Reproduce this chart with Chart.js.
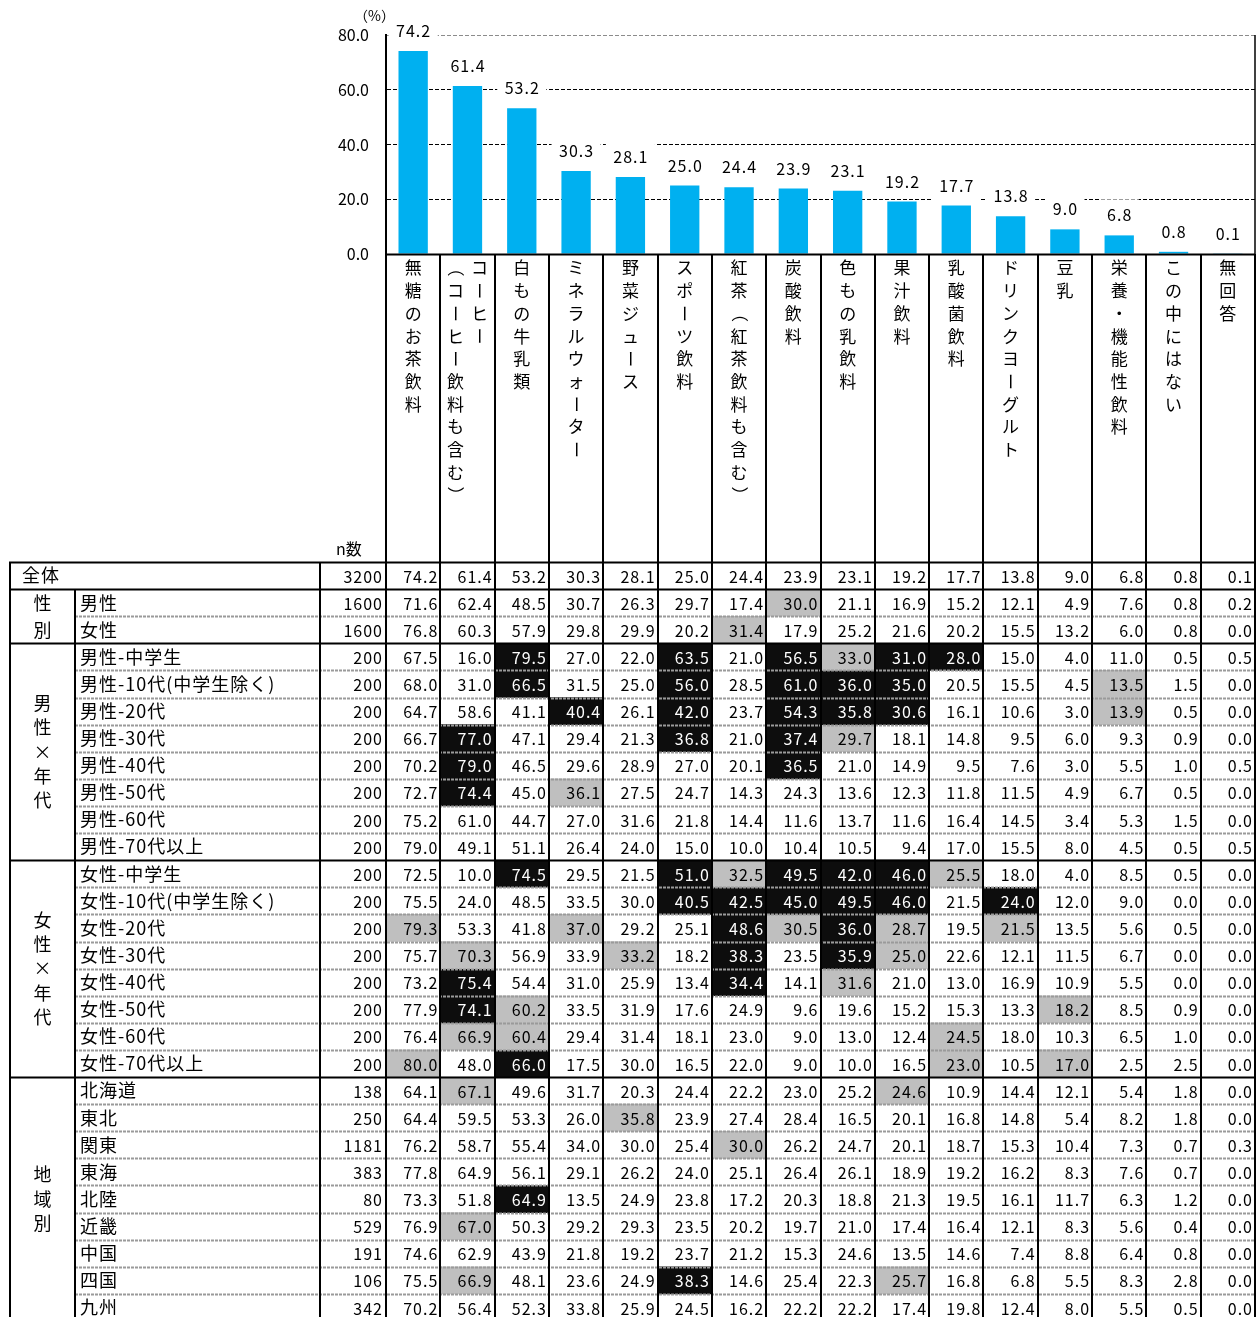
<!DOCTYPE html>
<html lang="ja">
<head>
<meta charset="utf-8">
<title>飲用している飲料</title>
<script src="https://cdn.jsdelivr.net/npm/chart.js@4.4.1/dist/chart.umd.min.js"></script>
<style>
  html, body { margin: 0; padding: 0; background: #fff; }
  #wrap { position: relative; width: 1258px; height: 1317px; overflow: hidden; background: #fff; }
  #bars { position: absolute; left: 0; top: 0; }
  #table { position: absolute; left: 0; top: 540px; }
</style>
</head>
<body>
<div id="wrap">
  <canvas id="bars" width="1258" height="564"></canvas>
  <canvas id="table" width="1258" height="782"></canvas>
</div>
<script>
// ---- data ----
const categories = [
  ['無糖のお茶飲料'],
  ['コーヒー', '（コーヒー飲料も含む）'],
  ['白もの牛乳類'],
  ['ミネラルウォーター'],
  ['野菜ジュース'],
  ['スポーツ飲料'],
  ['紅茶（紅茶飲料も含む）'],
  ['炭酸飲料'],
  ['色もの乳飲料'],
  ['果汁飲料'],
  ['乳酸菌飲料'],
  ['ドリンクヨーグルト'],
  ['豆乳'],
  ['栄養・機能性飲料'],
  ['この中にはない'],
  ['無回答']
];
const totalPct = [74.2, 61.4, 53.2, 30.3, 28.1, 25.0, 24.4, 23.9, 23.1, 19.2, 17.7, 13.8, 9.0, 6.8, 0.8, 0.1];
const yTicks = [0, 20, 40, 60, 80];

const groupNames = ['', '性別', '男性×年代', '女性×年代', '地域別'];
const groupSizes = [1, 2, 8, 8, 9];

const rowLabels = [
  '全体', '男性', '女性',
  '男性-中学生', '男性-10代(中学生除く)', '男性-20代', '男性-30代', '男性-40代', '男性-50代', '男性-60代', '男性-70代以上',
  '女性-中学生', '女性-10代(中学生除く)', '女性-20代', '女性-30代', '女性-40代', '女性-50代', '女性-60代', '女性-70代以上',
  '北海道', '東北', '関東', '東海', '北陸', '近畿', '中国', '四国', '九州'
];
const rowN = [3200, 1600, 1600,
  200, 200, 200, 200, 200, 200, 200, 200,
  200, 200, 200, 200, 200, 200, 200, 200,
  138, 250, 1181, 383, 80, 529, 191, 106, 342];

const rowValues = [
  [74.2, 61.4, 53.2, 30.3, 28.1, 25.0, 24.4, 23.9, 23.1, 19.2, 17.7, 13.8, 9.0, 6.8, 0.8, 0.1],
  [71.6, 62.4, 48.5, 30.7, 26.3, 29.7, 17.4, 30.0, 21.1, 16.9, 15.2, 12.1, 4.9, 7.6, 0.8, 0.2],
  [76.8, 60.3, 57.9, 29.8, 29.9, 20.2, 31.4, 17.9, 25.2, 21.6, 20.2, 15.5, 13.2, 6.0, 0.8, 0.0],
  [67.5, 16.0, 79.5, 27.0, 22.0, 63.5, 21.0, 56.5, 33.0, 31.0, 28.0, 15.0, 4.0, 11.0, 0.5, 0.5],
  [68.0, 31.0, 66.5, 31.5, 25.0, 56.0, 28.5, 61.0, 36.0, 35.0, 20.5, 15.5, 4.5, 13.5, 1.5, 0.0],
  [64.7, 58.6, 41.1, 40.4, 26.1, 42.0, 23.7, 54.3, 35.8, 30.6, 16.1, 10.6, 3.0, 13.9, 0.5, 0.0],
  [66.7, 77.0, 47.1, 29.4, 21.3, 36.8, 21.0, 37.4, 29.7, 18.1, 14.8, 9.5, 6.0, 9.3, 0.9, 0.0],
  [70.2, 79.0, 46.5, 29.6, 28.9, 27.0, 20.1, 36.5, 21.0, 14.9, 9.5, 7.6, 3.0, 5.5, 1.0, 0.5],
  [72.7, 74.4, 45.0, 36.1, 27.5, 24.7, 14.3, 24.3, 13.6, 12.3, 11.8, 11.5, 4.9, 6.7, 0.5, 0.0],
  [75.2, 61.0, 44.7, 27.0, 31.6, 21.8, 14.4, 11.6, 13.7, 11.6, 16.4, 14.5, 3.4, 5.3, 1.5, 0.0],
  [79.0, 49.1, 51.1, 26.4, 24.0, 15.0, 10.0, 10.4, 10.5, 9.4, 17.0, 15.5, 8.0, 4.5, 0.5, 0.5],
  [72.5, 10.0, 74.5, 29.5, 21.5, 51.0, 32.5, 49.5, 42.0, 46.0, 25.5, 18.0, 4.0, 8.5, 0.5, 0.0],
  [75.5, 24.0, 48.5, 33.5, 30.0, 40.5, 42.5, 45.0, 49.5, 46.0, 21.5, 24.0, 12.0, 9.0, 0.0, 0.0],
  [79.3, 53.3, 41.8, 37.0, 29.2, 25.1, 48.6, 30.5, 36.0, 28.7, 19.5, 21.5, 13.5, 5.6, 0.5, 0.0],
  [75.7, 70.3, 56.9, 33.9, 33.2, 18.2, 38.3, 23.5, 35.9, 25.0, 22.6, 12.1, 11.5, 6.7, 0.0, 0.0],
  [73.2, 75.4, 54.4, 31.0, 25.9, 13.4, 34.4, 14.1, 31.6, 21.0, 13.0, 16.9, 10.9, 5.5, 0.0, 0.0],
  [77.9, 74.1, 60.2, 33.5, 31.9, 17.6, 24.9, 9.6, 19.6, 15.2, 15.3, 13.3, 18.2, 8.5, 0.9, 0.0],
  [76.4, 66.9, 60.4, 29.4, 31.4, 18.1, 23.0, 9.0, 13.0, 12.4, 24.5, 18.0, 10.3, 6.5, 1.0, 0.0],
  [80.0, 48.0, 66.0, 17.5, 30.0, 16.5, 22.0, 9.0, 10.0, 16.5, 23.0, 10.5, 17.0, 2.5, 2.5, 0.0],
  [64.1, 67.1, 49.6, 31.7, 20.3, 24.4, 22.2, 23.0, 25.2, 24.6, 10.9, 14.4, 12.1, 5.4, 1.8, 0.0],
  [64.4, 59.5, 53.3, 26.0, 35.8, 23.9, 27.4, 28.4, 16.5, 20.1, 16.8, 14.8, 5.4, 8.2, 1.8, 0.0],
  [76.2, 58.7, 55.4, 34.0, 30.0, 25.4, 30.0, 26.2, 24.7, 20.1, 18.7, 15.3, 10.4, 7.3, 0.7, 0.3],
  [77.8, 64.9, 56.1, 29.1, 26.2, 24.0, 25.1, 26.4, 26.1, 18.9, 19.2, 16.2, 8.3, 7.6, 0.7, 0.0],
  [73.3, 51.8, 64.9, 13.5, 24.9, 23.8, 17.2, 20.3, 18.8, 21.3, 19.5, 16.1, 11.7, 6.3, 1.2, 0.0],
  [76.9, 67.0, 50.3, 29.2, 29.3, 23.5, 20.2, 19.7, 21.0, 17.4, 16.4, 12.1, 8.3, 5.6, 0.4, 0.0],
  [74.6, 62.9, 43.9, 21.8, 19.2, 23.7, 21.2, 15.3, 24.6, 13.5, 14.6, 7.4, 8.8, 6.4, 0.8, 0.0],
  [75.5, 66.9, 48.1, 23.6, 24.9, 38.3, 14.6, 25.4, 22.3, 25.7, 16.8, 6.8, 5.5, 8.3, 2.8, 0.0],
  [70.2, 56.4, 52.3, 33.8, 25.9, 24.5, 16.2, 22.2, 22.2, 17.4, 19.8, 12.4, 8.0, 5.5, 0.5, 0.0]
];

// significance marks per cell: 'b' = well above total, 'g' = above total, '.' = none
const rowMarks = [
  '................',
  '.......g........',
  '......g.........',
  '..b..b.bgbb.....',
  '..b..b.bbb...g..',
  '...b.b.bbb...g..',
  '.b...b.bg.......',
  '.b.....b........',
  '.b.g............',
  '................',
  '................',
  '..b..bgbbbg.....',
  '.....bbbbb.b....',
  'g..g..bgbg.g....',
  '.g..g.b.bg......',
  '.b....b.g.......',
  '.bg.........g...',
  '.gg.......g.....',
  'g.b.......g.g...',
  '.g.......g......',
  '....g...........',
  '......g.........',
  '................',
  '..b.............',
  '.g..............',
  '................',
  '.g...b...g......',
  '................'
];

// ---- drawing helpers ----
const JP = '"Noto Sans CJK JP", "Noto Sans CJK SC", sans-serif';
const ROTATED = new Set(['ー', '（', '）']);

function drawVertical(ctx, text, cx, y0, step) {
  [...text].forEach((ch, k) => {
    const cy = y0 + k * step;
    if (ROTATED.has(ch)) {
      ctx.save();
      ctx.translate(cx, cy);
      ctx.rotate(Math.PI / 2);
      ctx.fillText(ch, 0, 0);
      ctx.restore();
    } else {
      ctx.fillText(ch, cx, cy);
    }
  });
}

function vLine(ctx, x, y1, y2, color, w) {
  ctx.save();
  ctx.strokeStyle = color; ctx.lineWidth = w;
  ctx.beginPath(); ctx.moveTo(x, y1); ctx.lineTo(x, y2); ctx.stroke();
  ctx.restore();
}
function hLine(ctx, x1, x2, y, color, w, dash) {
  ctx.save();
  ctx.strokeStyle = color; ctx.lineWidth = w;
  if (dash) ctx.setLineDash(dash);
  ctx.beginPath(); ctx.moveTo(x1, y); ctx.lineTo(x2, y); ctx.stroke();
  ctx.restore();
}

// ---- top bar chart ----
const barDecor = {
  id: 'barDecor',
  afterDatasetsDraw(chart) {
    const { ctx, chartArea: a, scales: { x } } = chart;
    const colW = x.getPixelForValue(1) - x.getPixelForValue(0);
    const bottom = chart.height;

    // value labels with white boxes over the grid
    const meta = chart.getDatasetMeta(0);
    ctx.save();
    ctx.font = '16px ' + JP;
    ctx.letterSpacing = '1px';
    ctx.textAlign = 'center';
    ctx.textBaseline = 'middle';
    meta.data.forEach((bar, i) => {
      const txt = totalPct[i].toFixed(1);
      const cy = bar.y - 20;
      const tw = ctx.measureText(txt).width;
      ctx.fillStyle = '#fff';
      ctx.fillRect(bar.x - tw / 2 - 7, cy - 16, tw + 14, 32);
      ctx.fillStyle = '#000';
      ctx.fillText(txt, bar.x + 0.5, cy);
    });
    ctx.restore();

    // base line, right edge, column separators in the label band
    hLine(ctx, a.left, a.right, Math.round(a.bottom) + 0.5, '#000', 2);
    vLine(ctx, Math.round(a.right), a.top, bottom, '#000', 1.5);
    for (let k = 0; k <= categories.length; k++) {
      const xx = Math.round(x.getPixelForValue(0) - colW / 2 + k * colW);
      vLine(ctx, xx, a.bottom, bottom, '#000', 2);
    }

    // vertical category names
    ctx.save();
    ctx.font = '17px ' + JP;
    ctx.fillStyle = '#000';
    ctx.textAlign = 'center';
    ctx.textBaseline = 'middle';
    categories.forEach((cols, i) => {
      const cx = x.getPixelForValue(i);
      const offs = cols.length === 1 ? [0] : [12, -12];
      cols.forEach((txt, j) => drawVertical(ctx, txt, cx + offs[j], a.bottom + 14, 22.7));
    });
    ctx.restore();

    // unit and sample-size captions
    ctx.save();
    ctx.fillStyle = '#000';
    ctx.textBaseline = 'middle';
    ctx.font = '14px ' + JP;
    ctx.fillText('（%）', 354, 16);
    ctx.font = '16px ' + JP;
    ctx.fillText('n数', 336, 549);
    ctx.restore();
  }
};

new Chart(document.getElementById('bars'), {
  type: 'bar',
  data: {
    labels: categories.map(c => c.join('')),
    datasets: [{
      data: totalPct,
      backgroundColor: '#00B0F0',
      borderWidth: 0,
      barPercentage: 0.54,
      categoryPercentage: 1
    }]
  },
  options: {
    responsive: false,
    animation: false,
    layout: { padding: { left: 0, right: 3, top: 35, bottom: 564 - 254 } },
    plugins: { legend: { display: false }, tooltip: { enabled: false } },
    scales: {
      x: { display: false },
      y: {
        min: 0, max: 80,
        afterFit(scale) { scale.width = 386; },
        afterBuildTicks(scale) { scale.ticks = yTicks.map(v => ({ value: v })); },
        ticks: {
          padding: 17,
          color: '#000',
          font: { family: JP, size: 16 },
          callback: v => Number(v).toFixed(1)
        },
        grid: {
          drawTicks: false,
          lineWidth: 1,
          color: c => c.tick.value === 0 ? 'rgba(0,0,0,0)' : (c.tick.value === 80 ? '#8c8c8c' : '#000')
        },
        border: { display: true, color: '#000', width: 2, dash: [4, 2] }
      }
    }
  },
  plugins: [barDecor]
});

// ---- cross table ----
const tableDecor = {
  id: 'tableDecor',
  afterDatasetsDraw(chart) {
    const { ctx, chartArea: a, scales: { x, y } } = chart;
    const colW = x.getPixelForValue(1) - x.getPixelForValue(0);
    const rowTop = r => y.getPixelForValue(r);
    const rowMid = r => y.getPixelForValue(r + 0.5);
    const leftEdge = 10, groupEdge = 75, nEdge = 320;
    const bottom = chart.height;
    const nRows = rowLabels.length;

    // group boundaries
    const groupStart = [];
    let acc = 0;
    groupSizes.forEach(s => { groupStart.push(acc); acc += s; });
    const isGroupStart = new Set(groupStart);

    // row separators
    for (let r = 1; r < nRows; r++) {
      const yy = Math.round(rowTop(r)) + 0.5;
      if (isGroupStart.has(r)) hLine(ctx, leftEdge, a.right, yy, '#000', 2);
      else hLine(ctx, groupEdge, a.right, yy, '#9a9a9a', 2, [3, 1]);
    }
    hLine(ctx, leftEdge - 1, a.right + 1, Math.round(rowTop(0)) + 0.5, '#000', 2);

    // column separators
    vLine(ctx, leftEdge, rowTop(0), bottom, '#000', 2);
    vLine(ctx, groupEdge, rowTop(1), bottom, '#000', 2);
    vLine(ctx, nEdge, rowTop(0), bottom, '#000', 2);
    for (let k = 0; k <= categories.length; k++) {
      const xx = Math.round(x.getPixelForValue(0) - colW / 2 + k * colW);
      vLine(ctx, xx, 0, bottom, '#000', 2);
    }

    ctx.save();
    ctx.textBaseline = 'middle';

    // cell values
    ctx.font = '16px ' + JP;
    ctx.letterSpacing = '1px';
    ctx.textAlign = 'right';
    rowValues.forEach((vals, r) => {
      const cy = rowMid(r) + 1;
      vals.forEach((v, c) => {
        ctx.fillStyle = rowMarks[r][c] === 'b' ? '#fff' : '#000';
        ctx.fillText(v.toFixed(1), x.getPixelForValue(c) + colW / 2 - 2, cy);
      });
      ctx.fillStyle = '#000';
      ctx.fillText(String(rowN[r]), a.left - 3, cy);
    });

    // row labels
    ctx.letterSpacing = '1px';
    ctx.font = '18px ' + JP;
    ctx.textAlign = 'left';
    ctx.fillStyle = '#000';
    groupSizes.forEach((size, g) => {
      for (let k = 0; k < size; k++) {
        const r = groupStart[g] + k;
        const lx = groupNames[g] ? groupEdge + 5 : leftEdge + 12;
        ctx.fillText(rowLabels[r], lx, rowMid(r));
      }
    });

    // group labels, written top to bottom
    ctx.letterSpacing = '0px';
    ctx.textAlign = 'center';
    groupSizes.forEach((size, g) => {
      const name = groupNames[g];
      if (!name) return;
      const chars = [...name];
      const center = (rowTop(groupStart[g]) + rowTop(groupStart[g] + size)) / 2;
      const step = size <= 2 ? (rowTop(1) - rowTop(0)) : 24.4;
      const y0 = center - (chars.length - 1) / 2 * step;
      drawVertical(ctx, name, (leftEdge + groupEdge) / 2, y0, step);
    });
    ctx.restore();
  }
};

new Chart(document.getElementById('table'), {
  type: 'bar',
  data: {
    labels: categories.map(c => c.join('')),
    datasets: rowMarks.map((marks, r) => ({
      data: [...marks].map(m => m === '.' ? null : [r, r + 1]),
      backgroundColor: [...marks].map(m => m === 'b' ? '#0d0d0d' : '#bfbfbf'),
      borderWidth: 0,
      grouped: false,
      barPercentage: 1,
      categoryPercentage: 1
    }))
  },
  options: {
    responsive: false,
    animation: false,
    layout: { padding: { left: 386, right: 3, top: 22, bottom: 1 } },
    plugins: { legend: { display: false }, tooltip: { enabled: false } },
    scales: {
      x: { display: false },
      y: { display: false, min: 0, max: rowLabels.length, reverse: true }
    }
  },
  plugins: [tableDecor]
});
</script>
</body>
</html>
